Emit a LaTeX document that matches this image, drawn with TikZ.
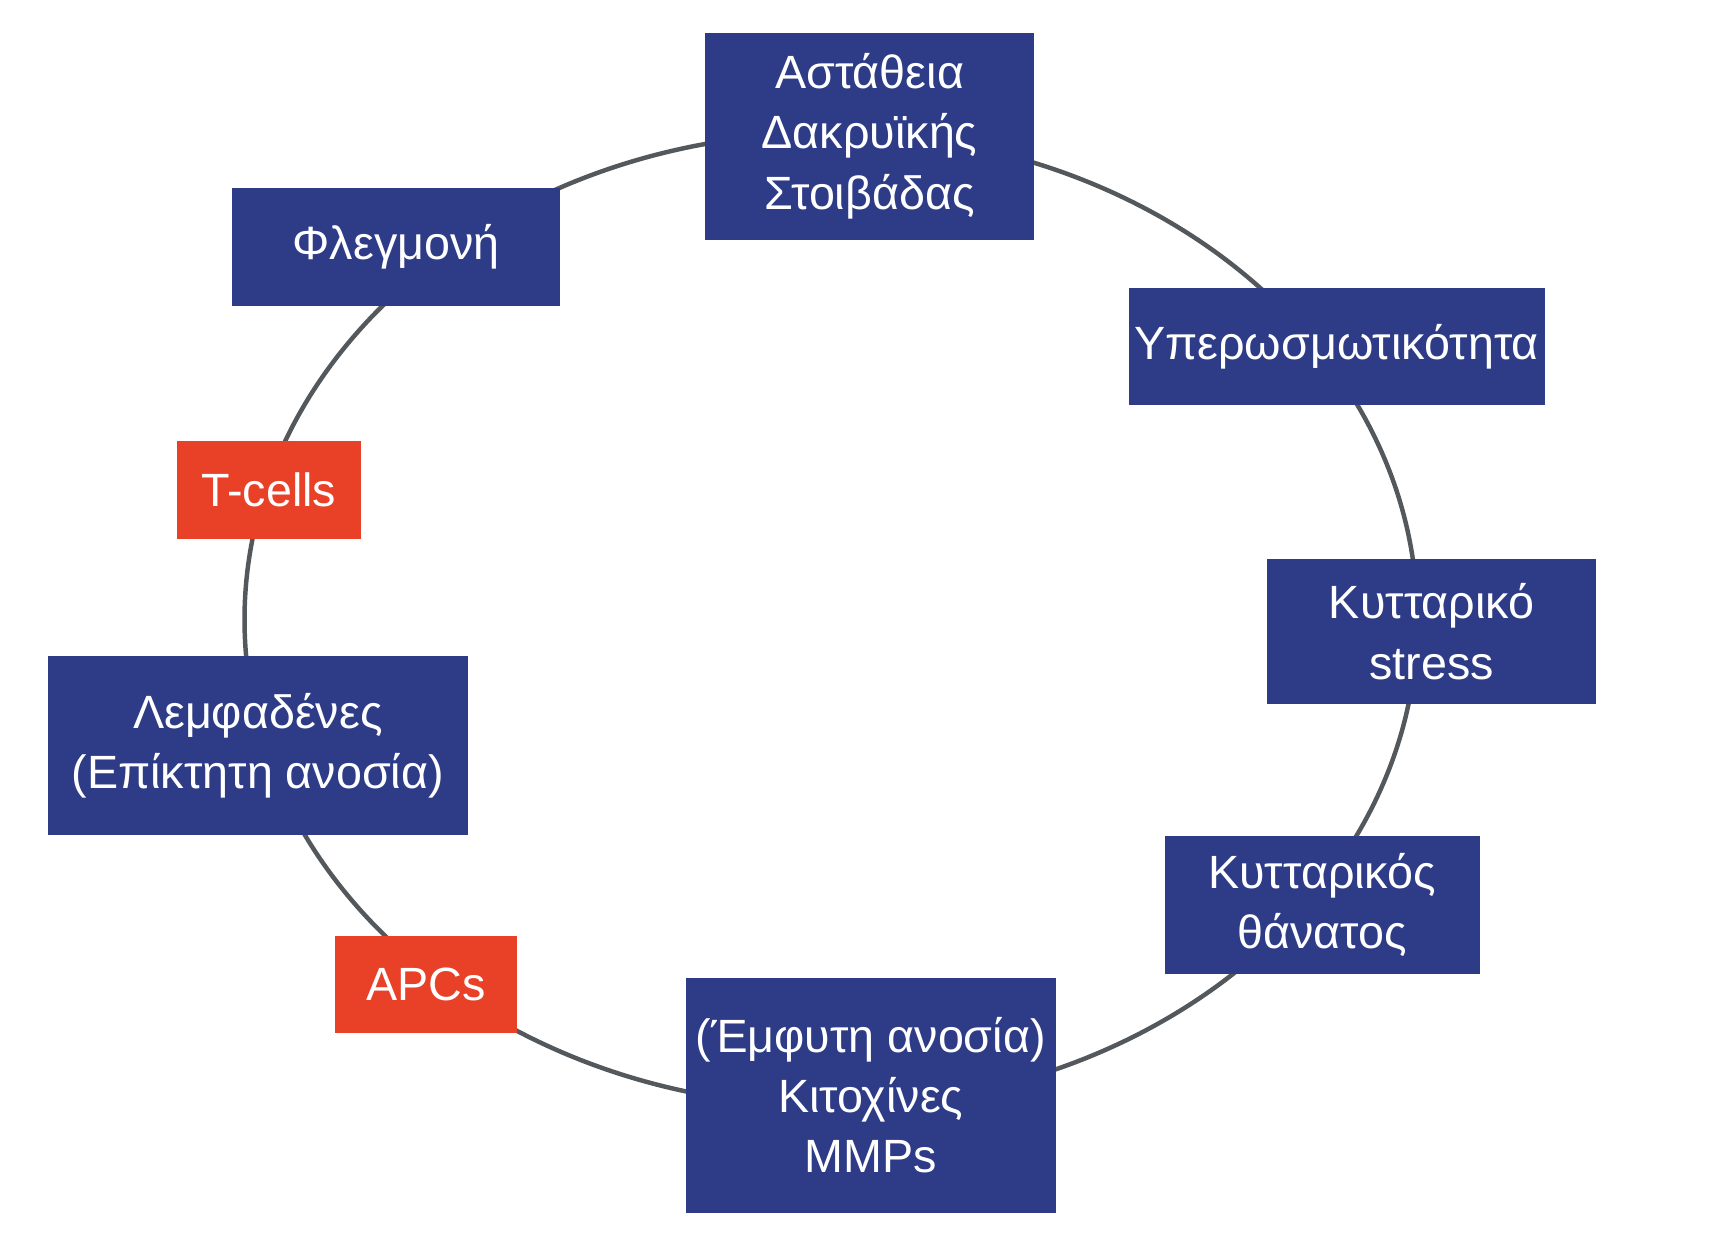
\documentclass[tikz,border=0pt]{standalone}
\usepackage{fontspec}
\setmainfont{Liberation Sans}
\usetikzlibrary{arrows.meta}
\definecolor{boxblue}{HTML}{2E3C87}
\definecolor{boxred}{HTML}{E84127}
\definecolor{linegray}{HTML}{53585D}
\tikzset{
  bx/.style={fill=boxblue,text=white,align=center,inner sep=0pt,font=\fontsize{24}{31}\selectfont},
  rx/.style={bx,fill=boxred},
  ring/.style={draw=linegray,line width=2.3pt},
  tip/.style={draw=none,-{Triangle[length=40pt,width=40pt]},linegray}
}
\newcommand{\ep}[1]{({751+530*cos(#1)},{560-440*sin(#1)})}
\begin{document}
\begin{tikzpicture}[x=0.02cm,y=-0.02cm]
\useasboundingbox (0,0) rectangle (1560,1122);
\draw[ring] (751,560) ellipse [x radius=530, y radius=440];
\foreach \t in {111,57,16,-12,-55,-116,-144,175,155}{
  \draw[tip,line width=2.3pt] \ep{\t+3} -- \ep{\t};
}
\node[bx,minimum width=297*0.02cm,minimum height=187*0.02cm] (a) at (786,123) {Αστάθεια\\Δακρυϊκής\\Στοιβάδας};
\node[bx,minimum width=297*0.02cm,minimum height=107*0.02cm] (f) at (358,223) {Φλεγμονή};
\node[bx,minimum width=376*0.02cm,minimum height=106*0.02cm] (y) at (1208,313) {Υπερωσμωτικότητα};
\node[bx,minimum width=297*0.02cm,minimum height=131*0.02cm] (s) at (1294,571) {Κυτταρικό\\stress};
\node[bx,minimum width=285*0.02cm,minimum height=125*0.02cm] (d) at (1195,818) {Κυτταρικός\\θάνατος};
\node[bx,minimum width=334*0.02cm,minimum height=213*0.02cm] (e) at (787,990) {(Έμφυτη ανοσία)\\Κιτοχίνες\\MMPs};
\node[rx,minimum width=164*0.02cm,minimum height=88*0.02cm] (p) at (385,890) {APCs};
\node[bx,minimum width=380*0.02cm,minimum height=162*0.02cm] (l) at (233,674) {Λεμφαδένες\\(Επίκτητη ανοσία)};
\node[rx,minimum width=166*0.02cm,minimum height=88*0.02cm] (t) at (243,443) {T-cells};
\end{tikzpicture}
\end{document}
